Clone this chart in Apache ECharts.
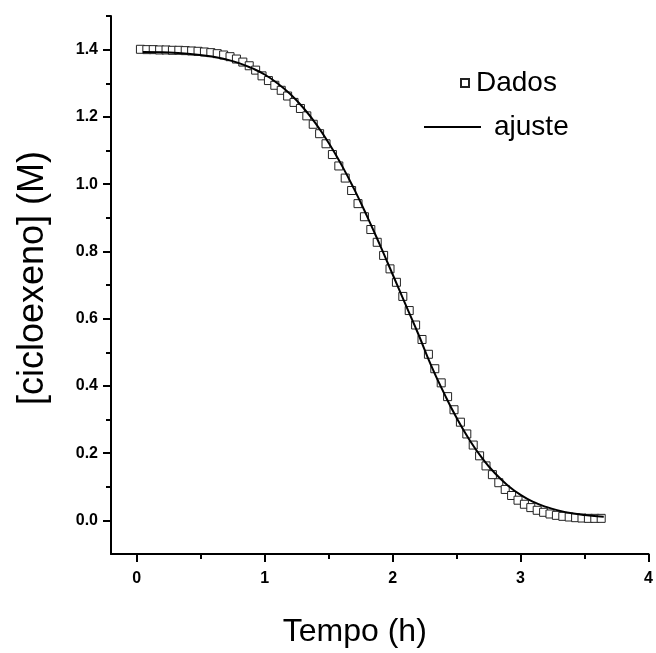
<!DOCTYPE html>
<html>
<head>
<meta charset="utf-8">
<script src="https://cdn.jsdelivr.net/npm/echarts@6/dist/echarts.min.js"></script>
<style>
html, body { margin: 0; padding: 0; background: #fff; }
#chart { width: 656px; height: 653px; }
</style>
</head>
<body>
<div id="chart"></div>
<script>
// pontos medidos
const tempoDados = [0.03, 0.08, 0.13, 0.18, 0.23, 0.28, 0.33, 0.38, 0.43, 0.48,
  0.53, 0.58, 0.63, 0.68, 0.73, 0.78, 0.83, 0.88, 0.93, 0.98,
  1.03, 1.08, 1.13, 1.18, 1.23, 1.28, 1.33, 1.38, 1.43, 1.48,
  1.53, 1.58, 1.63, 1.68, 1.73, 1.78, 1.83, 1.88, 1.93, 1.98,
  2.03, 2.08, 2.13, 2.18, 2.23, 2.28, 2.33, 2.38, 2.43, 2.48,
  2.53, 2.58, 2.63, 2.68, 2.73, 2.78, 2.83, 2.88, 2.93, 2.98,
  3.03, 3.08, 3.13, 3.18, 3.23, 3.28, 3.33, 3.38, 3.43, 3.48,
  3.53, 3.58, 3.63]
const cicloDados = [1.401, 1.400, 1.400, 1.399, 1.399, 1.398, 1.398, 1.397, 1.396, 1.395,
  1.393, 1.391, 1.388, 1.384, 1.379, 1.372, 1.363, 1.352, 1.339, 1.322,
  1.308, 1.294, 1.279, 1.262, 1.243, 1.225, 1.203, 1.178, 1.150, 1.120,
  1.088, 1.054, 1.018, 0.981, 0.942, 0.903, 0.865, 0.827, 0.788, 0.748,
  0.708, 0.666, 0.624, 0.581, 0.538, 0.494, 0.451, 0.409, 0.368, 0.329,
  0.292, 0.257, 0.224, 0.192, 0.162, 0.136, 0.112, 0.092, 0.074, 0.060,
  0.048, 0.038, 0.030, 0.024, 0.019, 0.015, 0.012, 0.010, 0.008, 0.007,
  0.006, 0.006, 0.006]

// curva de ajuste
const tempoAjuste = [0.05, 0.2, 0.4, 0.6, 0.7, 0.8, 0.9, 1.0, 1.1, 1.2, 1.3, 1.4, 1.5, 1.6, 1.7,
  1.8, 1.9, 2.0, 2.1, 2.2, 2.3, 2.4, 2.5, 2.6, 2.7, 2.8, 2.9, 3.0, 3.1, 3.2, 3.3, 3.4, 3.5, 3.65]
const cicloAjuste = [1.393, 1.392, 1.388, 1.379, 1.371, 1.360, 1.345, 1.326, 1.300, 1.268, 1.228, 1.180, 1.123, 1.058, 0.985,
  0.905, 0.820, 0.732, 0.643, 0.555, 0.462, 0.380, 0.305, 0.240, 0.185, 0.140, 0.104, 0.076, 0.055, 0.040, 0.029, 0.021, 0.016, 0.011]

const xTicks = [0, 1, 2, 3, 4]
const xMinorTicks = [0.5, 1.5, 2.5, 3.5]
const yTicks = [0, 0.2, 0.4, 0.6, 0.8, 1.0, 1.2, 1.4]
const yMinorTicks = [0.1, 0.3, 0.5, 0.7, 0.9, 1.1, 1.3, 1.5]

const chart = echarts.init(document.getElementById('chart'))
const fonte = 'Liberation Sans, Arial, sans-serif'

const option = {
  backgroundColor: '#fff',
  animation: false,
  textStyle: { fontFamily: fonte },
  grid: { left: 111, right: 1, top: 16, bottom: 94 },
  legend: [
    {
      data: ['Dados'],
      left: 455, top: 64,
      itemWidth: 8, itemHeight: 8, itemGap: 0,
      textStyle: { fontSize: 28, color: '#000', fontFamily: fonte, padding: [0, 0, 0, 2] }
    },
    {
      data: ['ajuste'],
      left: 418, top: 108,
      itemWidth: 57, itemHeight: 14,
      itemStyle: { color: 'transparent', borderWidth: 0, opacity: 0 },
      lineStyle: { color: '#000', width: 2 },
      textStyle: { fontSize: 28, color: '#000', fontFamily: fonte, padding: [0, 0, 0, 8] }
    }
  ],
  xAxis: [
    {
      type: 'value', min: -0.2, max: 4,
      name: 'Tempo (h)', nameLocation: 'middle', nameGap: 62,
      nameTextStyle: { fontSize: 32, color: '#000', padding: [0, 50, 0, 0] },
      axisLine: { onZero: false, lineStyle: { color: '#000', width: 2 } },
      axisTick: { length: 8, lineStyle: { color: '#000', width: 2 }, customValues: xTicks },
      axisLabel: { customValues: xTicks, color: '#000', fontSize: 16, fontWeight: 'bold', margin: 17 },
      splitLine: { show: false }
    },
    {
      type: 'value', min: -0.2, max: 4, position: 'bottom', offset: 0,
      axisLine: { show: false, onZero: false },
      axisTick: { length: 5, lineStyle: { color: '#000', width: 2 }, customValues: xMinorTicks },
      axisLabel: { show: false },
      splitLine: { show: false }
    }
  ],
  yAxis: [
    {
      type: 'value', min: -0.1, max: 1.5,
      name: '[cicloexeno] (M)', nameLocation: 'middle', nameGap: 60,
      nameTextStyle: { fontSize: 36, color: '#000', padding: [0, 0, 0, 14] },
      axisLine: { show: true, onZero: false, lineStyle: { color: '#000', width: 2 } },
      axisTick: { show: true, length: 8, lineStyle: { color: '#000', width: 2 }, customValues: yTicks },
      axisLabel: {
        customValues: yTicks, color: '#000', fontSize: 16, fontWeight: 'bold', margin: 13,
        formatter: (v) => v.toFixed(1)
      },
      splitLine: { show: false }
    },
    {
      type: 'value', min: -0.1, max: 1.5, position: 'left', offset: 0,
      axisLine: { show: false, onZero: false },
      axisTick: { show: true, length: 5, lineStyle: { color: '#000', width: 2 }, customValues: yMinorTicks },
      axisLabel: { show: false },
      splitLine: { show: false }
    }
  ],
  series: [
    {
      name: 'Dados',
      type: 'scatter',
      symbol: 'rect',
      symbolSize: 8,
      itemStyle: { color: '#fff', borderColor: '#222', borderWidth: 1, opacity: 1 },
      data: tempoDados.map((t, i) => [t, cicloDados[i]]),
      z: 2
    },
    {
      name: 'ajuste',
      type: 'line',
      smooth: true,
      symbol: 'none',
      lineStyle: { color: '#000', width: 2 },
      itemStyle: { color: '#000' },
      data: tempoAjuste.map((t, i) => [t, cicloAjuste[i]]),
      z: 3
    }
  ]
}
chart.setOption(option)
</script>
</body>
</html>
